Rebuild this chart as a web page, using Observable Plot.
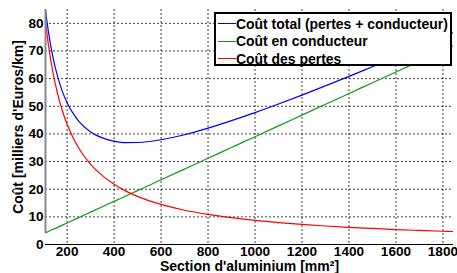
<!DOCTYPE html>
<html><head><meta charset="utf-8">
<script src="https://cdn.jsdelivr.net/npm/d3@7"></script>
<script src="https://cdn.jsdelivr.net/npm/@observablehq/plot@0.6"></script>
<style>
body{margin:0;background:#fff;}
#wrap{position:relative;width:457px;height:273px;font-family:"Liberation Sans",Arial,sans-serif;}
#legend{position:absolute;left:214px;top:12px;width:238px;height:54px;box-sizing:border-box;border:2px solid #000;background:#fff;font-weight:bold;}
.row{position:absolute;left:0;height:18px;}
.sw{position:absolute;left:2px;width:18px;height:1.4px;}
.lt{position:absolute;left:20px;white-space:nowrap;line-height:18px;}
</style>
</head><body>
<div id="wrap"></div>
<script>
const sections = [108,120,140,160,180,200,225,250,300,350,400,450,500,550,600,700,800,900,1000,1100,1200,1300,1400,1500,1600,1700,1800,1845];
const coutTotal = [84.8,77.2,67.6,60.6,55.3,51.3,47.5,44.55,40.7,38.55,37.4,36.85,36.9,37.25,37.9,39.7,42.1,44.8,47.7,50.8,54.05,57.4,60.8,64.3,67.8,71.4,75.0,76.7];
const coutConducteur = [4.2,4.7,5.5,6.2,7.0,7.8,8.8,9.75,11.7,13.65,15.6,17.55,19.5,21.45,23.4,27.3,31.2,35.1,39.0,42.9,46.8,50.7,54.6,58.5,62.4,66.3,70.2,72.0];
const coutPertes = [80.6,72.5,62.1,54.4,48.3,43.5,38.7,34.8,29.0,24.9,21.8,19.3,17.4,15.8,14.5,12.4,10.9,9.7,8.7,7.9,7.25,6.7,6.2,5.8,5.4,5.1,4.8,4.7];
const xTicks = [200,400,600,800,1000,1200,1400,1600,1800];
const yTicks = [0,10,20,30,40,50,60,70,80];
const seriesNames = ["Coût total (pertes + conducteur)","Coût en conducteur","Coût des pertes"];
const seriesColors = ["#0000ff","#119911","#ff0000"];
const xLabel = "Section d'aluminium [mm²]";
const yLabel = "Coût [milliers d'Euros/km]";

const seriesValues = [coutTotal, coutConducteur, coutPertes];
const rows = [];
seriesNames.forEach((name, i) => sections.forEach((s, j) => rows.push({section: s, cout: seriesValues[i][j], serie: name})));

const xMin = sections[0], xMax = sections[sections.length-1];

const chart = Plot.plot({
  width: 457, height: 273,
  marginLeft: 45, marginRight: 4, marginTop: 9, marginBottom: 29,
  style: {fontFamily: '"Liberation Sans", Arial, sans-serif', fontWeight: "bold", fontSize: "13.6px", color: "#000", background: "#fff"},
  x: {domain: [xMin, xMax], label: null},
  y: {domain: [0, 85], label: null},
  color: {domain: seriesNames, range: seriesColors},
  marks: [
    Plot.gridX(xTicks, {stroke: "#000", strokeOpacity: 0.75, strokeDasharray: "2,2"}),
    Plot.gridY(yTicks, {stroke: "#000", strokeOpacity: 0.75, strokeDasharray: "2,2"}),
    Plot.line(rows, {x: "section", y: "cout", z: "serie", stroke: "serie", strokeWidth: 1.2, curve: "monotone-x", clip: true}),
    Plot.ruleY([0], {stroke: "#000", strokeWidth: 1}),
    Plot.ruleX([xMin], {y1: coutConducteur[0], y2: 85, stroke: "#888", strokeWidth: 2}),
    Plot.axisX({ticks: xTicks, tickSize: 0, tickPadding: 2, tickFormat: d => String(d), label: null}),
    Plot.axisY({ticks: yTicks, tickSize: 0, tickPadding: 2, tickFormat: d => String(d), label: null}),
    Plot.text([xLabel], {frameAnchor: "bottom", dy: 22.5, text: d => d, textAnchor: "middle", fontSize: 14, fontWeight: "bold", lineAnchor: "middle"}),
    Plot.text([yLabel], {frameAnchor: "left", dx: -27, rotate: -90, text: d => d, textAnchor: "middle", fontSize: 14, fontWeight: "bold", lineAnchor: "middle"})
  ]
});
const wrap = document.getElementById("wrap");
wrap.appendChild(chart);

// fit legend font so the longest entry spans ~213px like the reference
const ctx = document.createElement("canvas").getContext("2d");
ctx.font = 'bold 15px "Liberation Sans", Arial, sans-serif';
const w15 = ctx.measureText(seriesNames[0]).width;
const legendFont = Math.min(15, 15 * 212 / w15);

const legend = document.createElement("div");
legend.id = "legend";
legend.style.fontSize = legendFont + "px";
seriesNames.forEach((name, i) => {
  const r = document.createElement("div");
  r.className = "row";
  r.style.top = (0.5 + i * 17.5) + "px";
  const sw = document.createElement("div");
  sw.className = "sw";
  sw.style.background = seriesColors[i];
  sw.style.top = "8.5px";
  const t = document.createElement("div");
  t.className = "lt";
  t.textContent = name;
  r.appendChild(sw); r.appendChild(t);
  legend.appendChild(r);
});
wrap.appendChild(legend);
</script>
</body></html>
